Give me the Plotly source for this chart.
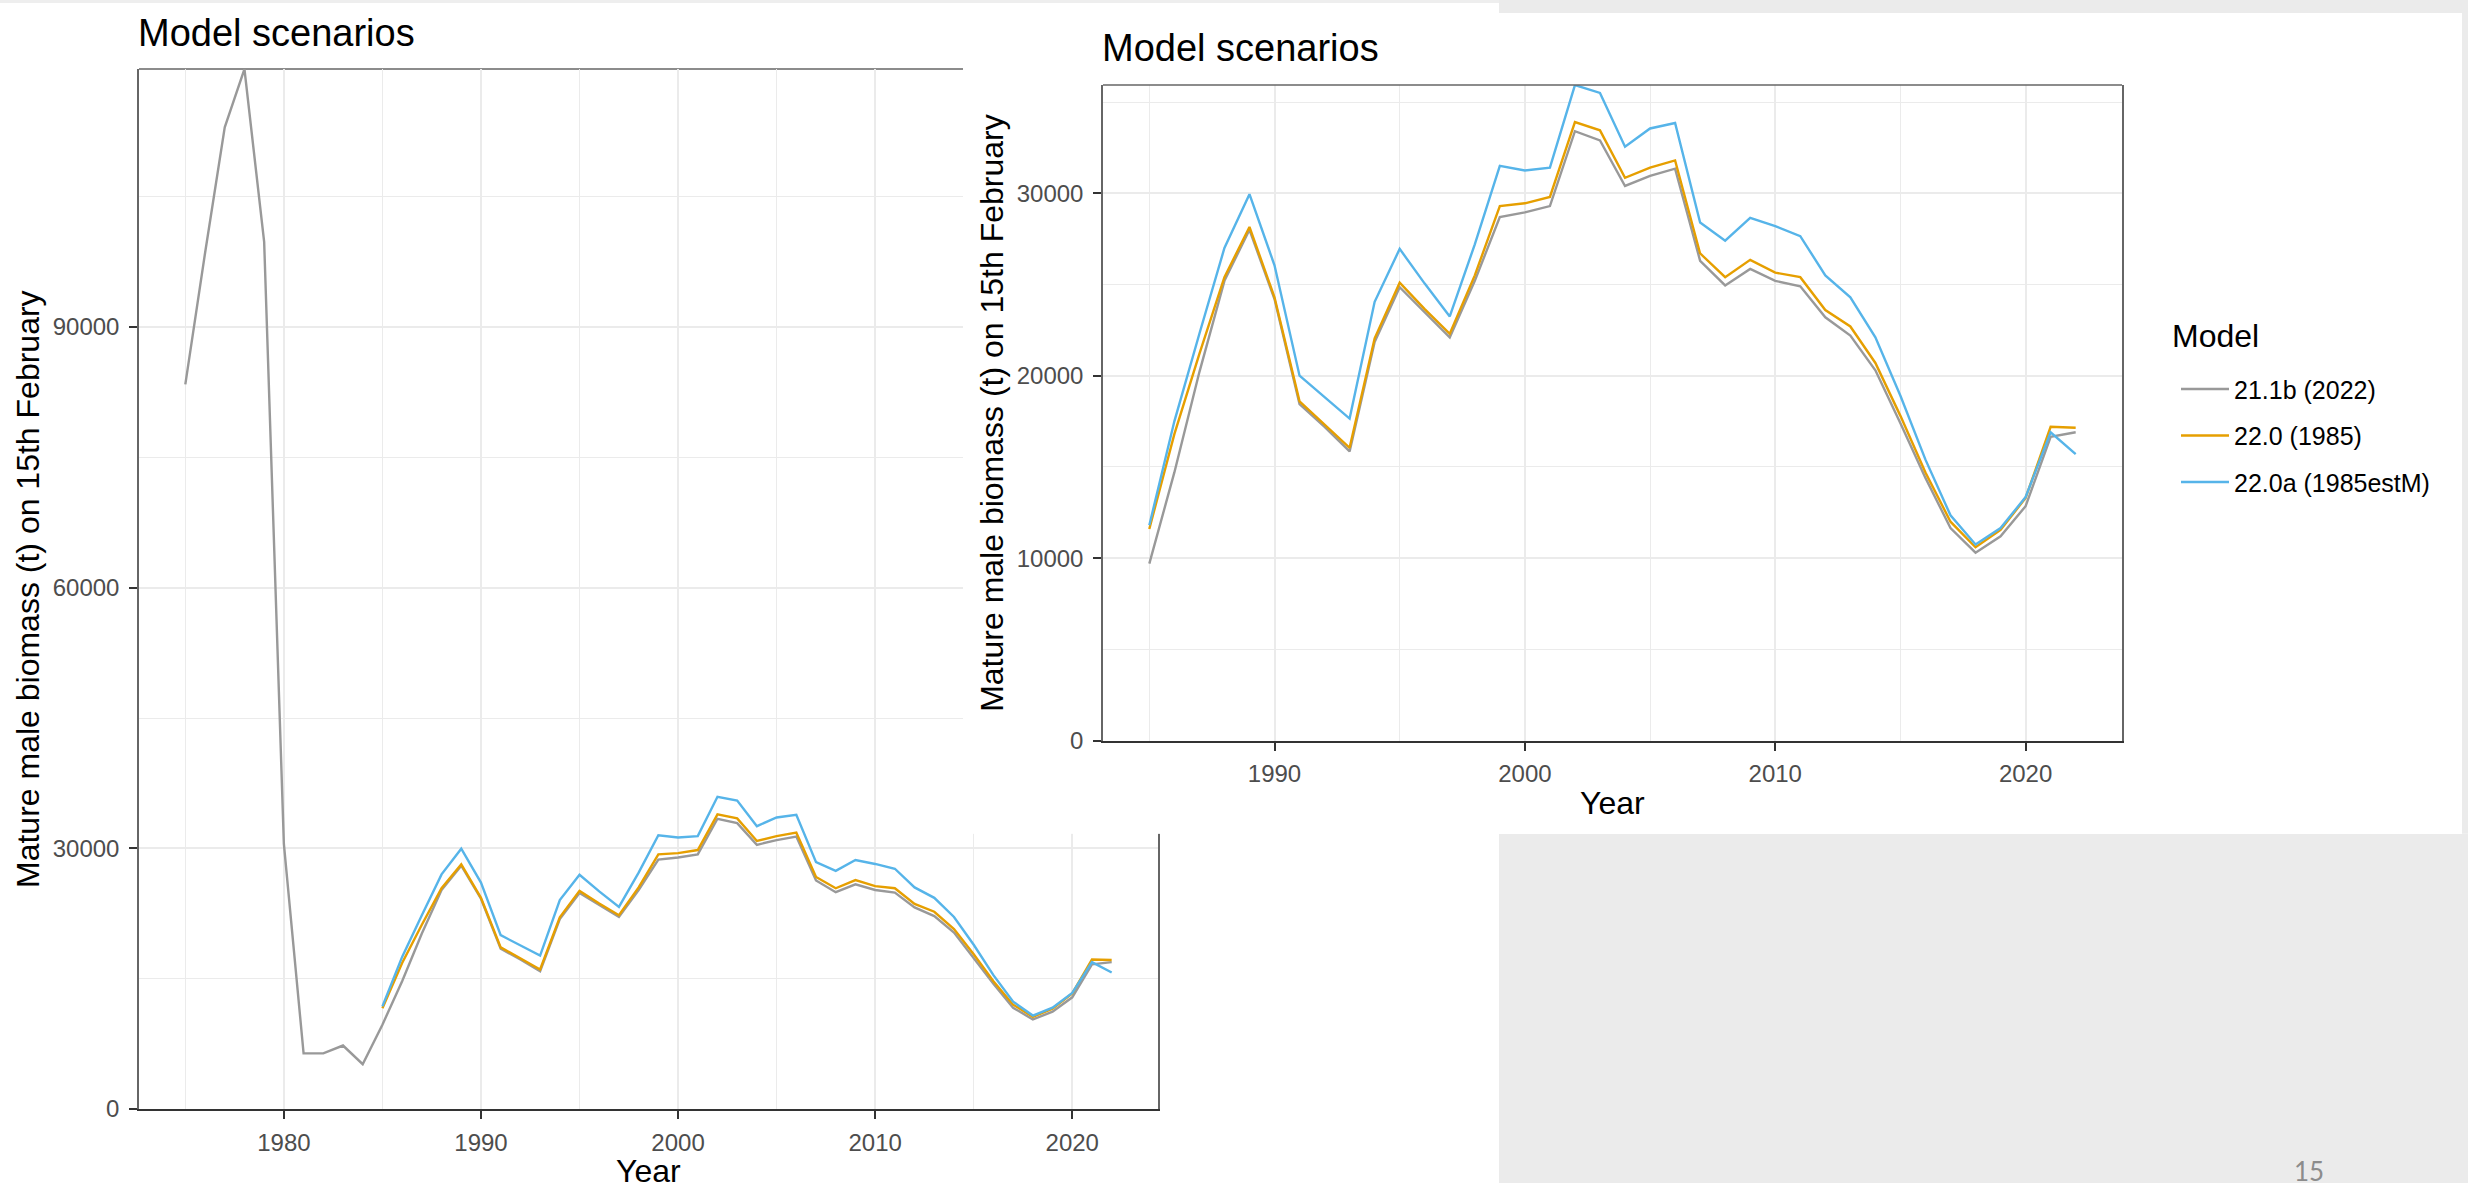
import plotly.graph_objects as go

W = 2468
H_Y = 1182   # effective drawable height of the captured page (px)
FONT = "Liberation Sans, Arial, sans-serif"

# ---------------- data ----------------
years_211b = list(range(1975, 2023))
years_22 = list(range(1985, 2023))

mmb_211b = [83400, 98500, 113000, 119700, 99800, 30500, 6400, 6400, 7300, 5150,
            9700, 14700, 20200, 25200, 28000, 24200, 18450, 17200, 15850, 21850,
            24850, 23450, 22100, 25200, 28700, 28950, 29300, 33400, 32900, 30400,
            30950, 31350, 26300, 24950, 25850, 25200, 24900, 23200, 22200, 20300,
            17400, 14400, 11650, 10300, 11200, 12850, 16650, 16900]

mmb_220 = [11600, 16800, 21200, 25400, 28150, 24300, 18600, 17350, 16050, 22050,
           25100, 23650, 22300, 25500, 29300, 29450, 29800, 33900, 33450, 30850,
           31400, 31800, 26700, 25400, 26350, 25650, 25400, 23600, 22700, 20700,
           17800, 14700, 12000, 10600, 11550, 13300, 17200, 17150]

mmb_220a = [11800, 17500, 22300, 27000, 29950, 26050, 20000, 18800, 17650, 24050,
            26950, 25050, 23250, 27200, 31500, 31250, 31400, 35930, 35500, 32550,
            33550, 33850, 28400, 27400, 28650, 28200, 27650, 25500, 24300, 22100,
            18900, 15400, 12350, 10750, 11650, 13350, 16900, 15700]

model_names = ["21.1b (2022)", "22.0 (1985)", "22.0a (1985estM)"]
model_colors = ["#999999", "#E69F00", "#56B4E9"]

title_text = "Model scenarios"
x_title = "Year"
y_title = "Mature male biomass (t) on 15th February"
legend_title = "Model"
page_number = "15"

# ---------------- helpers ----------------
def px_x(p):
    return p / W

def px_y(p):
    return max(0.0, 1 - p / H_Y)

# plot areas in pixel coordinates (left, right, top, bottom)
P1 = (139, 1158, 69, 1108)
P2 = (1103, 2122, 85, 740)
MASK = (963, 2462, 13, 833)

fig = go.Figure()

series = [(years_211b, mmb_211b), (years_22, mmb_220), (years_22, mmb_220a)]

# chart 1 (full time series)
for (xs, ys), name, col in zip(series, model_names, model_colors):
    fig.add_trace(go.Scatter(x=xs, y=ys, mode="lines", name=name,
                             line=dict(color=col, width=2.4),
                             xaxis="x", yaxis="y", showlegend=False))

# white panel of the inset picture (masks chart 1 underneath)
fig.add_trace(go.Scatter(x=[0, 1, 1, 0, 0], y=[0, 0, 1, 1, 0], fill="toself",
                         fillcolor="white", mode="lines",
                         line=dict(width=0, color="white"),
                         xaxis="x2", yaxis="y2", hoverinfo="skip",
                         showlegend=False))

# chart 2 (from 1985)
for i, ((xs, ys), name, col) in enumerate(zip(series, model_names, model_colors)):
    xs2 = [x for x in xs if x >= 1985]
    ys2 = [y for x, y in zip(xs, ys) if x >= 1985]
    fig.add_trace(go.Scatter(x=xs2, y=ys2, mode="lines", name=name,
                             line=dict(color=col, width=2.4),
                             xaxis="x3", yaxis="y3", legendgroup=f"g{i}",
                             showlegend=True))

tickfont = dict(family=FONT, size=24, color="#4d4d4d")

def xaxis_cfg(dom, rng, anchor):
    return dict(domain=dom, range=rng, dtick=10, tick0=1980, anchor=anchor,
                ticks="outside", ticklen=8, tickwidth=2, tickcolor="#333333",
                tickfont=tickfont, ticklabelstandoff=3,
                showline=True, linecolor="#333333", linewidth=2,
                mirror=False, showgrid=True, gridcolor="#ebebeb", gridwidth=2,
                minor=dict(dtick=5, tick0=1975, showgrid=True,
                           gridcolor="#ebebeb", gridwidth=1),
                zeroline=False, fixedrange=True)

def yaxis_cfg(dom, rng, dt, anchor):
    return dict(domain=dom, range=rng, dtick=dt, tick0=0, anchor=anchor,
                ticks="outside", ticklen=8, tickwidth=2, tickcolor="#333333",
                tickfont=tickfont, tickformat="d", ticklabelstandoff=5,
                showline=True, linecolor="#666666",
                linewidth=1.5, mirror=True, showgrid=True, gridcolor="#ebebeb",
                gridwidth=2,
                minor=dict(dtick=dt / 2, tick0=0, showgrid=True,
                           gridcolor="#ebebeb", gridwidth=1),
                zeroline=False, fixedrange=True)

yr1 = [1975, 2022]
pad1 = (yr1[1] - yr1[0]) * 0.05
yr2 = [1985, 2022]
pad2 = (yr2[1] - yr2[0]) * 0.05

fig.update_layout(
    autosize=True,
    margin=dict(l=0, r=0, t=0, b=0, pad=0),
    paper_bgcolor="white", plot_bgcolor="white",
    font=dict(family=FONT),
    xaxis=xaxis_cfg([px_x(P1[0]), px_x(P1[1])], [yr1[0] - pad1, yr1[1] + pad1], "y"),
    yaxis=yaxis_cfg([px_y(P1[3]), px_y(P1[2])], [0, max(mmb_211b)], 30000, "x"),
    xaxis2=dict(domain=[px_x(MASK[0]), px_x(MASK[1])], range=[0, 1], visible=False,
                fixedrange=True, anchor="y2"),
    yaxis2=dict(domain=[px_y(MASK[3]), px_y(MASK[2])], range=[0, 1], visible=False,
                fixedrange=True, anchor="x2"),
    xaxis3=xaxis_cfg([px_x(P2[0]), px_x(P2[1])], [yr2[0] - pad2, yr2[1] + pad2], "y3"),
    yaxis3=yaxis_cfg([px_y(P2[3]), px_y(P2[2])],
                     [0, max(mmb_211b[10:] + mmb_220 + mmb_220a)], 10000, "x3"),
    legend=dict(x=px_x(2176), y=px_y(366), xanchor="left", yanchor="top",
                font=dict(family=FONT, size=25, color="black"),
                tracegroupgap=11, bgcolor="rgba(0,0,0,0)", itemwidth=48),
    hovermode=False,
)

shapes = [
    # slide background texture (approximated as flat light grey)
    dict(type="rect", xref="paper", yref="paper", layer="below",
         x0=px_x(1499), x1=1, y0=0, y1=px_y(833),
         fillcolor="#ebebeb", line=dict(width=0)),
    dict(type="rect", xref="paper", yref="paper", layer="below",
         x0=px_x(1499), x1=1, y0=px_y(13), y1=1,
         fillcolor="#ebebeb", line=dict(width=0)),
    dict(type="rect", xref="paper", yref="paper", layer="below",
         x0=px_x(2462), x1=1, y0=px_y(833), y1=1,
         fillcolor="#ebebeb", line=dict(width=0)),
    dict(type="rect", xref="paper", yref="paper", layer="below",
         x0=0, x1=px_x(1499), y0=px_y(3), y1=1,
         fillcolor="#eeeeee", line=dict(width=0)),
    # chart 1 top border (below the inset panel)
    dict(type="line", xref="paper", yref="paper", layer="below",
         x0=px_x(P1[0]), x1=px_x(P1[1]), y0=px_y(P1[2]), y1=px_y(P1[2]),
         line=dict(color="#666666", width=1.5)),
    # chart 2 top border
    dict(type="line", xref="paper", yref="paper", layer="above",
         x0=px_x(P2[0]), x1=px_x(P2[1]), y0=px_y(P2[2]), y1=px_y(P2[2]),
         line=dict(color="#666666", width=1.5)),
]
fig.update_layout(shapes=shapes)

def ann(text, x, y, size, color="black", angle=0, xanchor="center", family=FONT):
    return dict(text=text, xref="paper", yref="paper", x=px_x(x), y=px_y(y),
                xanchor=xanchor, yanchor="middle", textangle=angle, showarrow=False,
                font=dict(family=family, size=size, color=color))

annotations = [
    # chart titles
    ann(title_text, P1[0] - 3, 33, 38, xanchor="left"),
    ann(title_text, P2[0] - 3, 48, 38, xanchor="left"),
    # x axis titles
    ann(x_title, (P1[0] + P1[1]) / 2, 1170, 32),
    ann(x_title, (P2[0] + P2[1]) / 2, 802, 32),
    # y axis titles
    ann(y_title, 28, (P1[2] + P1[3]) / 2, 32, angle=-90),
    ann(y_title, 992, (P2[2] + P2[3]) / 2, 32, angle=-90),
    # legend title
    ann(legend_title, 2170, 336, 32, xanchor="left"),
    # slide number
    ann(page_number, 2309, 1170, 26, color="#8c8c8c",
        family="Lato, Open Sans, sans-serif"),
]
fig.update_layout(annotations=annotations)

post = ("var d=document.getElementById('{plot_id}');"
        "document.documentElement.style.margin='0';"
        "document.documentElement.style.overflow='hidden';"
        "document.body.style.margin='0';"
        "document.body.style.overflow='hidden';"
        "d.style.position='fixed';d.style.left='0px';d.style.top='0px';"
        "window.dispatchEvent(new Event('resize'));")

fig.write_html("out.html", default_width="100vw", default_height="100vh",
               config={"displayModeBar": False, "responsive": True},
               post_script=post)
